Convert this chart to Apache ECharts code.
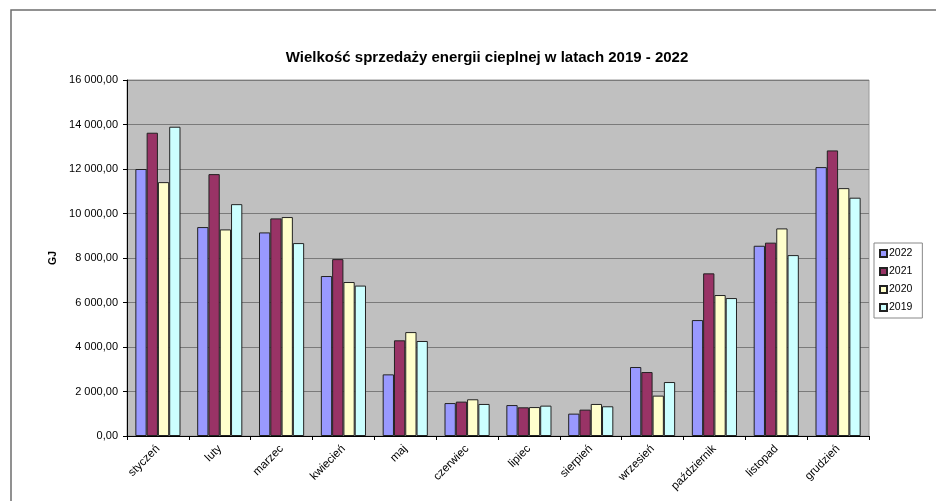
<!DOCTYPE html>
<html>
<head>
<meta charset="utf-8">
<script src="https://cdn.jsdelivr.net/npm/echarts@6/dist/echarts.min.js"></script>
<style>
html,body{margin:0;padding:0;background:#fff;}
#chart{width:936px;height:501px;}
</style>
</head>
<body>
<div id="chart"></div>
<script>
const categories = ['styczeń','luty','marzec','kwiecień','maj','czerwiec','lipiec','sierpień','wrzesień','październik','listopad','grudzień'];
const years = ['2022','2021','2020','2019'];
const values2022 = [12000, 9390, 9150, 7190, 2770, 1480, 1390, 1005, 3100, 5210, 8550, 12085];
const values2021 = [13630, 11770, 9780, 7950, 4300, 1545, 1290, 1185, 2875, 7310, 8690, 12835];
const values2020 = [11410, 9285, 9840, 6920, 4670, 1650, 1300, 1440, 1815, 6335, 9330, 11140];
const values2019 = [13900, 10420, 8670, 6760, 4270, 1440, 1365, 1335, 2425, 6200, 8130, 10710];
const colors = ['#9999FF', '#993366', '#FFFFCC', '#CCFFFF'];
const seriesValues = [values2022, values2021, values2020, values2019];

function fmt(v) {
  const s = String(Math.round(v));
  const withSpaces = s.replace(/\B(?=(\d{3})+(?!\d))/g, ' ');
  return withSpaces + ',00';
}

const chart = echarts.init(document.getElementById('chart'));
chart.setOption({
  animation: false,
  backgroundColor: '#ffffff',
  textStyle: { fontFamily: 'Liberation Sans, Arial, sans-serif' },
  graphic: [{
    type: 'rect',
    shape: { x: 11, y: 10, width: 940, height: 500 },
    style: { fill: 'none', stroke: '#6e6e6e', lineWidth: 1.5 },
    silent: true
  }],
  title: {
    text: 'Wielkość sprzedaży energii cieplnej w latach 2019 - 2022',
    left: 482, top: 45, textAlign: 'center',
    textStyle: { fontSize: 15, fontWeight: 'bold', color: '#000', fontFamily: 'Liberation Sans, Arial, sans-serif' }
  },
  legend: {
    data: years,
    orient: 'vertical',
    left: 874, top: 243,
    width: 51,
    itemWidth: 7, itemHeight: 7, itemGap: 7,
    padding: [5, 10, 5, 5],
    borderColor: '#888', borderWidth: 1,
    backgroundColor: '#fff',
    textStyle: { fontSize: 10.5, color: '#000', padding: [0, 0, 0, -3] },
    icon: 'rect'
  },
  grid: {
    left: 127, right: 67, top: 80, bottom: 65,
    show: true, backgroundColor: '#C0C0C0', borderColor: '#9a9a9a', borderWidth: 1
  },
  xAxis: {
    type: 'category',
    data: categories,
    axisLine: { lineStyle: { color: '#000', width: 1 } },
    axisTick: { show: true, alignWithLabel: false, length: 4, lineStyle: { color: '#000' } },
    axisLabel: { rotate: 45, fontSize: 11.5, color: '#000', margin: 11, interval: 0 }
  },
  yAxis: {
    type: 'value',
    min: 0, max: 16000, interval: 2000,
    name: 'GJ',
    nameLocation: 'middle',
    nameGap: 58,
    nameRotate: 90,
    nameTextStyle: { fontSize: 10.5, fontWeight: 'bold', color: '#000' },
    axisLine: { show: true, lineStyle: { color: '#000', width: 1 } },
    axisTick: { show: true, length: 4, lineStyle: { color: '#000' } },
    axisLabel: { fontSize: 11, color: '#000', margin: 9, formatter: fmt },
    splitLine: { show: true, lineStyle: { color: '#7a7a7a', width: 1 } }
  },
  series: years.map((y, i) => ({
    name: y,
    type: 'bar',
    data: seriesValues[i],
    barGap: '0%',
    barCategoryGap: '27%',
    itemStyle: { color: colors[i], borderColor: '#222', borderWidth: 1 }
  }))
});
</script>
</body>
</html>
